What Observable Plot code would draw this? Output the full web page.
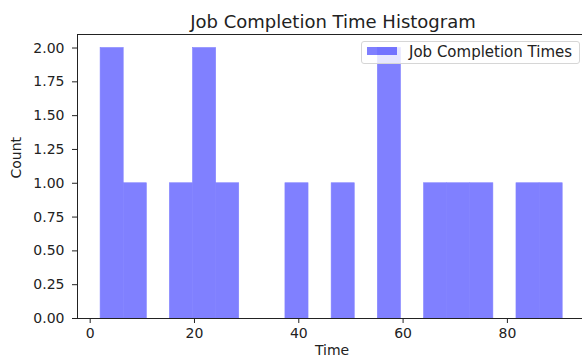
<!DOCTYPE html>
<html>
<head>
<meta charset="utf-8">
<script src="https://cdn.jsdelivr.net/npm/d3@7"></script>
<script src="https://cdn.jsdelivr.net/npm/@observablehq/plot@0.6"></script>
<style>
  html, body { margin: 0; padding: 0; background: #fff; }
  #wrap { position: relative; width: 582px; height: 356px; overflow: hidden; font-family: "DejaVu Sans", sans-serif; }
  #legend { position: absolute; left: 361px; top: 41px; width: 219px; height: 23px;
    border: 1px solid #d6d6d6; border-radius: 3px; background: rgba(255,255,255,0.8);
    box-sizing: border-box; }
  #legend .sw { position: absolute; left: 5px; top: 5px; width: 30px; height: 8px; background: rgba(0,0,255,0.5); }
  #legend .lb { position: absolute; left: 47px; top: 0px; line-height: 20px; font-size: 15px; color: #222; white-space: nowrap; }
</style>
</head>
<body>
<div id="wrap"></div>
<script>
// Histogram bin edges (20 bins) and counts
const binEdges = [2.0, 6.43, 10.86, 15.29, 19.72, 24.15, 28.58, 33.01, 37.44, 41.87, 46.3,
                  50.73, 55.16, 59.59, 64.02, 68.45, 72.88, 77.31, 81.74, 86.17, 90.6];
const binCounts = [2, 1, 0, 1, 2, 1, 0, 0, 1, 0, 1, 0, 2, 0, 1, 1, 1, 0, 1, 1];
const xTicks = [0, 20, 40, 60, 80];
const yTicks = [0, 0.25, 0.5, 0.75, 1.0, 1.25, 1.5, 1.75, 2.0];
const title = "Job Completion Time Histogram";
const xLabel = "Time";
const yLabel = "Count";
const seriesName = "Job Completion Times";

const bins = binCounts.map((c, i) => ({x1: binEdges[i], x2: binEdges[i + 1], count: c}));
const xDomain = [-2.43, 94.4];
const yDomain = [0, 2.1];

const chart = Plot.plot({
  width: 582,
  height: 356,
  marginLeft: 77,
  marginRight: 0,
  marginTop: 34,
  marginBottom: 38,
  style: { fontFamily: "DejaVu Sans, sans-serif", fontSize: "14px", color: "#222", background: "#fff" },
  x: { domain: xDomain, ticks: xTicks },
  y: { domain: yDomain, ticks: yTicks },
  marks: [
    Plot.rectY(bins.filter(d => d.count > 0), { x1: "x1", x2: "x2", y: "count", fill: "#8080ff",
      stroke: "#8080ff", strokeWidth: 0.6, inset: 0 }),
    Plot.axisX({ ticks: xTicks, tickSize: 5, tickPadding: 5, label: null, tickFormat: d3.format("d"), stroke: "#222" }),
    Plot.axisY({ ticks: yTicks, tickSize: 5, tickPadding: 8, label: null, tickFormat: d3.format(".2f"), stroke: "#222" }),
    Plot.ruleX([xDomain[0]], { stroke: "#222", strokeWidth: 1 }),
    Plot.ruleY([yDomain[0]], { stroke: "#222", strokeWidth: 1 }),
    Plot.ruleY([yDomain[1]], { stroke: "#222", strokeWidth: 1 }),
    Plot.text([title], { frameAnchor: "top", dx: 3, dy: -7, lineAnchor: "bottom", fontSize: 18, fill: "#222" }),
    Plot.text([xLabel], { frameAnchor: "bottom", dx: 2, dy: 36, lineAnchor: "bottom", fontSize: 14, fill: "#222" }),
    Plot.text([yLabel], { frameAnchor: "left", dx: -61, dy: 2, rotate: -90, lineAnchor: "middle", fontSize: 14, fill: "#222" })
  ]
});
const wrap = document.getElementById("wrap");
wrap.appendChild(chart);
const lg = document.createElement("div");
lg.id = "legend";
lg.innerHTML = `<div class="sw"></div><div class="lb"></div>`;
lg.querySelector(".lb").textContent = seriesName;
wrap.appendChild(lg);
</script>
</body>
</html>
